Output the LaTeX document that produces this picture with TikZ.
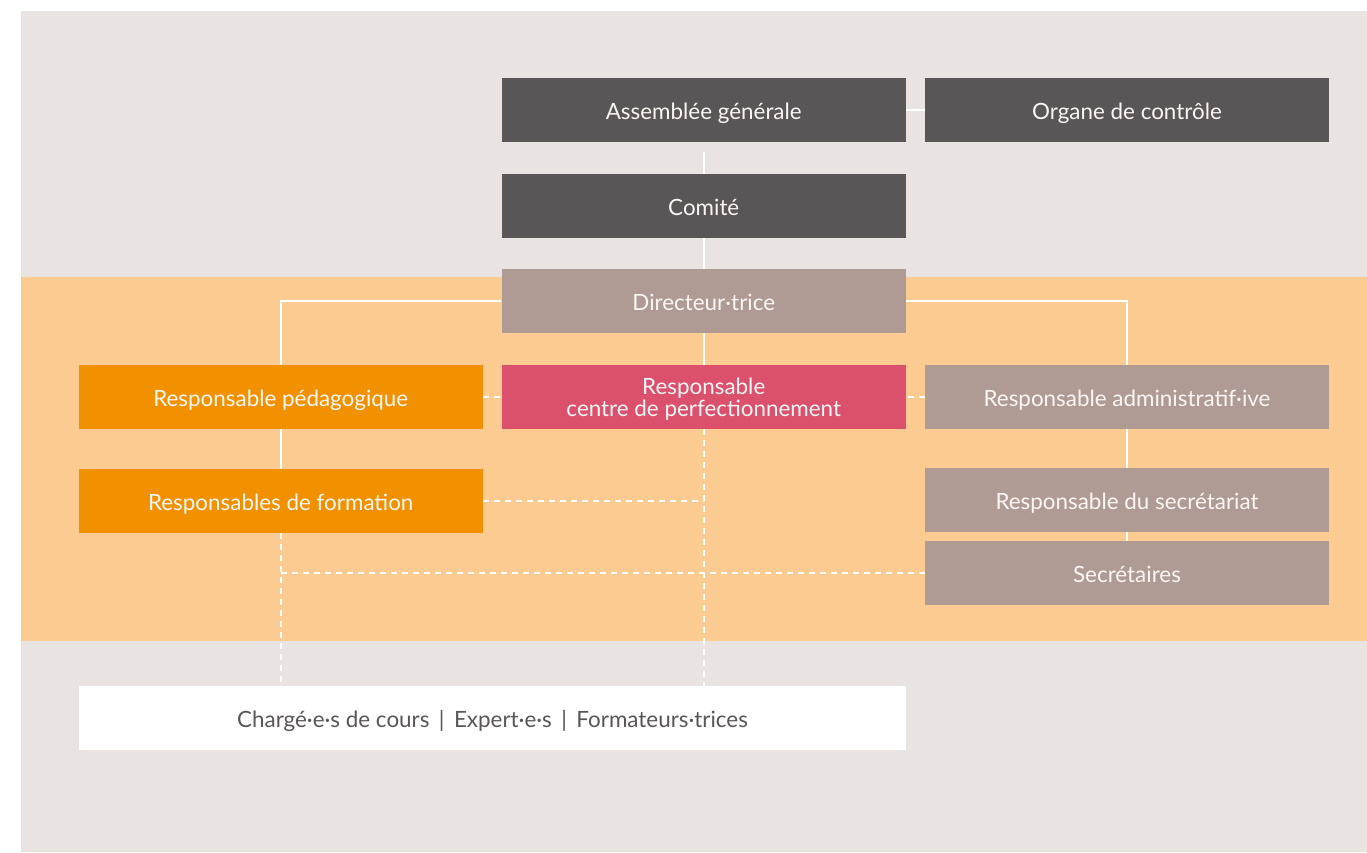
\documentclass[tikz,border=0pt]{standalone}
\usepackage{fontspec}
\setmainfont{Lato}
\definecolor{bggray}{HTML}{E9E4E1}
\definecolor{bandorange}{HTML}{FBCB92}
\definecolor{darkbox}{HTML}{5A5556}
\definecolor{taupe}{HTML}{AF9A94}
\definecolor{orangebox}{HTML}{F29100}
\definecolor{pinkbox}{HTML}{DB506D}
\definecolor{greytext}{HTML}{5A5556}
\definecolor{boxtext}{HTML}{FBF6F3}
\begin{document}
\begin{tikzpicture}[x=1pt,y=-1pt,
  box/.style={rectangle, inner sep=0pt, minimum width=404.5pt, minimum height=64pt,
    text=boxtext, align=center, font=\fontsize{22.4}{22}\selectfont,
    text height=18.6pt, text depth=0pt},
  darkb/.style={box, fill=darkbox},
  taupeb/.style={box, fill=taupe},
  orangeb/.style={box, fill=orangebox},
  pinkb/.style={rectangle, inner sep=0pt, minimum width=404.5pt, minimum height=64pt, fill=pinkbox},
  boxlabel/.style={inner sep=0pt, text=boxtext, align=center, font=\fontsize{22.4}{21.7}\selectfont},
  whiteb/.style={box, fill=white, text=greytext, minimum width=827pt},
  solidline/.style={draw=white, line width=1.5pt},
  dashline/.style={draw=white, line width=1.5pt, dash pattern=on 6pt off 5pt}]
\useasboundingbox (0,0) rectangle (1367,852);
\fill[bggray] (21,11) rectangle (1367,852);
\fill[bandorange] (21,277) rectangle (1367,641);

\node[darkb] (ag) at (703.75,110) {Assemblée générale};
\node[darkb] (org) at (1127,110) {Organe de contrôle};
\node[darkb] (comite) at (703.75,206) {Comité};
\node[taupeb] (dir) at (703.75,301) {Directeur·trice};
\node[orangeb] (ped) at (280.75,397) {Responsable pédagogique};
\node[pinkb] (centre) at (703.75,397) {};
\node[boxlabel] (centretext) at ([yshift=-2.5pt]centre.center) {Responsable\\centre de perfectionnement};
\node[taupeb] (adm) at (1127,397) {Responsable administratif·ive};
\node[orangeb] (form) at (280.75,501) {Responsables de formation};
\node[taupeb] (secr) at (1127,500) {Responsable du secrétariat};
\node[taupeb] (secs) at (1127,573) {Secrétaires};
\node[whiteb] (ens) at (492.5,718) {Chargé·e·s de cours \,|\, Expert·e·s \,|\, Formateurs·trices};

% solid connectors
\draw[solidline] (ag.east) -- (org.west);
\draw[solidline] ([yshift=-10pt]ag.south) -- (comite.north);
\draw[solidline] (comite.south) -- (dir.north);
\draw[solidline] (dir.south) -- (centre.north);
\draw[solidline] (dir.west) -| (ped.north);
\draw[solidline] (dir.east) -| (adm.north);
\draw[solidline] (ped.south) -- (form.north);
\draw[solidline] (adm.south) -- (secr.north);
\draw[solidline] (secr.south) -- (secs.north);

% dashed connectors
\draw[dashline] (ped.east) -- (centre.west);
\draw[dashline] (adm.west) -- (centre.east);
\draw[dashline] (centre.south) -- (centre.south |- ens.north);
\draw[dashline] (form.east) -- (form.east -| centre.south);
\draw[dashline] (form.south) -- (form.south |- ens.north);
\draw[dashline] (secs.west) -- (secs.west -| form.south);
\end{tikzpicture}
\end{document}
